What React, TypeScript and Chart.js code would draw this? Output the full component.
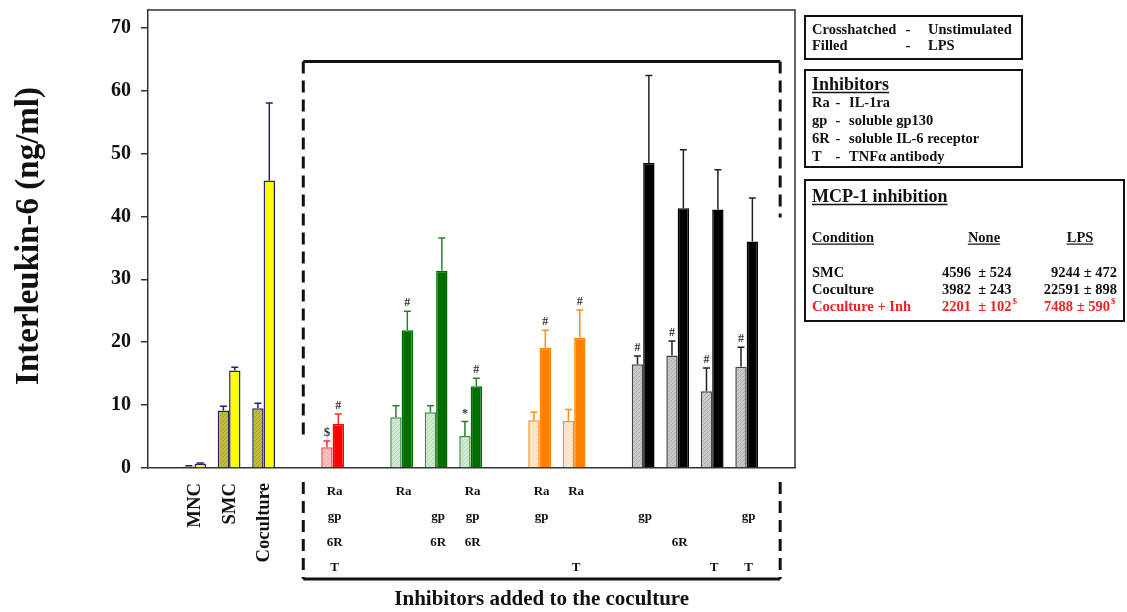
import React, { useEffect, useRef } from 'react';
import { Chart, registerables } from 'chart.js';

Chart.register(...registerables);

// ---------- data ----------
const groupNames = ['MNC', 'SMC', 'Coculture', 'Ra gp 6R T', 'Ra', 'gp 6R', 'Ra gp 6R', 'Ra gp', 'Ra T', 'gp', '6R', 'T', 'gp T'];
const groupSlot = [0, 1, 2, 4, 6, 7, 8, 10, 11, 13, 14, 15, 16];
const cellLabels = ['MNC', 'SMC', 'Coculture'];
const groupInhibitors = [[], [], [], ['Ra', 'gp', '6R', 'T'], ['Ra'], ['gp', '6R'], ['Ra', 'gp', '6R'], ['Ra', 'gp'], ['Ra', 'T'], ['gp'], ['6R'], ['T'], ['gp', 'T']];
const inhibitorCodes = ['Ra', 'gp', '6R', 'T'];

const unstimValues = [0.25, 9.15, 9.5, 3.3, 8.05, 8.85, 5.1, 7.6, 7.5, 16.5, 17.9, 12.2, 16.1];
const unstimErrors = [0.1, 0.65, 0.8, 1.0, 1.85, 1.05, 2.3, 1.25, 1.8, 1.3, 2.3, 3.7, 3.1];
const lpsValues = [0.7, 15.5, 45.7, 7.0, 21.9, 31.35, 13.0, 19.1, 20.7, 48.5, 41.3, 41.1, 36.0];
const lpsErrors = [0.1, 0.5, 12.3, 1.6, 3.0, 5.2, 1.25, 2.8, 4.4, 13.9, 9.3, 6.3, 6.9];
const unstimMarks = ['', '', '', '$', '', '', '*', '', '', '#', '#', '#', '#'];
const lpsMarks = ['', '', '', '#', '#', '', '#', '#', '#', '', '', '', ''];

const yTicks = [0, 10, 20, 30, 40, 50, 60, 70];

const legendTreatment = [['Crosshatched', 'Unstimulated'], ['Filled', 'LPS']];
const legendInhibitors = [['Ra', 'IL-1ra'], ['gp', 'soluble gp130'], ['6R', 'soluble IL-6 receptor'], ['T', 'TNFα antibody']];
const mcpConditions = ['SMC', 'Coculture', 'Coculture + Inh'];
const mcpNone = ['4596  ± 524', '3982  ± 243', '2201  ± 102'];
const mcpLps = ['9244 ± 472', '22591 ± 898', '7488 ± 590'];
const mcpSup = ['', '', '$'];

// ---------- styles ----------
const FONT = "'Liberation Serif', 'Times New Roman', Times, serif";
type Pal = { hb: string; hl: string; hBorder: string; fill: string; fBorder: string; err: string };
const YEL: Pal = { hb: '#c2bc38', hl: '#a39e28', hBorder: '#23236e', fill: '#ffff00', fBorder: '#23236e', err: '#23236e' };
const RED: Pal = { hb: '#f8c2c2', hl: '#efa0a0', hBorder: '#ff4040', fill: '#ff0000', fBorder: '#ff0000', err: '#ff2a2a' };
const GRN: Pal = { hb: '#d3e8d3', hl: '#b6d4b6', hBorder: '#3a8c3a', fill: '#006e00', fBorder: '#006e00', err: '#2e7e2e' };
const ORG: Pal = { hb: '#fde8d0', hl: '#f8d3aa', hBorder: '#ff8c1a', fill: '#ff8000', fBorder: '#ff8000', err: '#ff8c1a' };
const BLK: Pal = { hb: '#c8c8c8', hl: '#aaaaaa', hBorder: '#444444', fill: '#000000', fBorder: '#000000', err: '#222222' };
const groupPalette: Pal[] = [YEL, YEL, YEL, RED, GRN, GRN, GRN, ORG, ORG, BLK, BLK, BLK, BLK];

function hatch(base: string, line: string): CanvasPattern | string {
  const c = document.createElement('canvas');
  c.width = 4; c.height = 4;
  const g = c.getContext('2d');
  if (!g) return base;
  g.fillStyle = base; g.fillRect(0, 0, 4, 4);
  g.strokeStyle = line; g.lineWidth = 0.8;
  g.beginPath();
  g.moveTo(-1, 5); g.lineTo(5, -1);
  g.moveTo(-3, 3); g.lineTo(3, -3);
  g.moveTo(1, 7); g.lineTo(7, 1);
  g.stroke();
  return g.createPattern(c, 'repeat') || base;
}

function txt(ctx: CanvasRenderingContext2D, s: string, x: number, y: number, size: number, o: { align?: CanvasTextAlign; color?: string; underline?: boolean; base?: CanvasTextBaseline; weight?: string } = {}) {
  ctx.save();
  ctx.font = `${o.weight || 'bold'} ${size}px ${FONT}`;
  ctx.fillStyle = o.color || '#111';
  ctx.textAlign = o.align || 'left';
  ctx.textBaseline = o.base || 'middle';
  ctx.fillText(s, x, y);
  if (o.underline) {
    const w = ctx.measureText(s).width;
    let x0 = x;
    if (ctx.textAlign === 'center') x0 = x - w / 2;
    if (ctx.textAlign === 'right') x0 = x - w;
    ctx.strokeStyle = o.color || '#111';
    ctx.lineWidth = Math.max(1.2, size / 13);
    ctx.beginPath();
    const uy = (o.base || 'middle') === 'middle' ? y + size * 0.42 : y + size * 0.12;
    ctx.moveTo(x0, uy); ctx.lineTo(x0 + w, uy);
    ctx.stroke();
  }
  ctx.restore();
}

const overlay = {
  id: 'overlay',
  afterDatasetsDraw(chart: any) {
    const ctx: CanvasRenderingContext2D = chart.ctx;
    const ys = chart.scales.y;
    const sets = [
      { vals: unstimValues, errs: unstimErrors, marks: unstimMarks },
      { vals: lpsValues, errs: lpsErrors, marks: lpsMarks },
    ];
    sets.forEach((s, di) => {
      const meta = chart.getDatasetMeta(di);
      meta.data.forEach((el: any, i: number) => {
        const x = el.x;
        const yTop = ys.getPixelForValue(s.vals[i] + s.errs[i]);
        ctx.save();
        ctx.strokeStyle = groupPalette[i].err;
        ctx.lineWidth = 1.5;
        ctx.beginPath();
        ctx.moveTo(x, el.y); ctx.lineTo(x, yTop);
        ctx.moveTo(x - 3.5, yTop); ctx.lineTo(x + 3.5, yTop);
        ctx.stroke();
        ctx.restore();
        if (s.marks[i]) {
          txt(ctx, s.marks[i], x, yTop - 2, s.marks[i] === '$' ? 13 : 12, { align: 'center', base: 'bottom', color: '#333' });
        }
      });
    });
  },
  afterDraw(chart: any) {
    const ctx: CanvasRenderingContext2D = chart.ctx;
    const xs = chart.scales.x, ys = chart.scales.y;
    const ca = chart.chartArea;
    // frame
    ctx.save();
    ctx.strokeStyle = '#333'; ctx.lineWidth = 1.5;
    ctx.beginPath();
    ctx.moveTo(ca.left, ca.top); ctx.lineTo(ca.right, ca.top); ctx.lineTo(ca.right, ca.bottom);
    ctx.stroke();
    ctx.restore();

    // brackets
    const bx0 = xs.getPixelForValue(3.15), bx1 = xs.getPixelForValue(16.97);
    const bTop = ys.getPixelForValue(64.6);
    ctx.save();
    ctx.strokeStyle = '#111'; ctx.lineWidth = 3;
    ctx.beginPath();
    ctx.moveTo(bx0, bTop); ctx.lineTo(bx1, bTop);
    ctx.moveTo(bx0, ca.bottom + 111); ctx.lineTo(bx1, ca.bottom + 111);
    ctx.stroke();
    ctx.setLineDash([12, 7]);
    ctx.beginPath();
    ctx.moveTo(bx0, bTop); ctx.lineTo(bx0, ys.getPixelForValue(5.2));
    ctx.moveTo(bx1, bTop); ctx.lineTo(bx1, ys.getPixelForValue(39.8));
    ctx.moveTo(bx0, ca.bottom + 14); ctx.lineTo(bx0, ca.bottom + 111);
    ctx.moveTo(bx1, ca.bottom + 14); ctx.lineTo(bx1, ca.bottom + 111);
    ctx.stroke();
    ctx.restore();

    // cell-type labels (rotated)
    cellLabels.forEach((lab, i) => {
      const x = xs.getPixelForValue(groupSlot[i]) + 1;
      ctx.save();
      ctx.translate(x, ca.bottom + 15);
      ctx.rotate(-Math.PI / 2);
      txt(ctx, lab, 0, 0, 18.7, { align: 'right' });
      ctx.restore();
    });

    // inhibitor rows
    const rowBase = [495, 520, 546, 571];
    inhibitorCodes.forEach((code, r) => {
      groupInhibitors.forEach((inh, i) => {
        if (inh.indexOf(code) >= 0) {
          txt(ctx, code, xs.getPixelForValue(groupSlot[i]) + 2, rowBase[r], 13, { align: 'center', base: 'alphabetic' });
        }
      });
    });

    // axis titles
    txt(ctx, 'Inhibitors added to the coculture', (bx0 + bx1) / 2, 600, 21, { align: 'center' });
    ctx.save();
    ctx.translate(29, 236);
    ctx.rotate(-Math.PI / 2);
    txt(ctx, 'Interleukin-6 (ng/ml)', 0, 0, 33, { align: 'center' });
    ctx.restore();

    // legend boxes
    ctx.save();
    ctx.strokeStyle = '#111'; ctx.lineWidth = 2;
    ctx.strokeRect(805, 16, 217, 43);
    ctx.strokeRect(805, 70, 217, 97);
    ctx.strokeRect(805, 180, 319, 141);
    ctx.restore();
    legendTreatment.forEach((row, i) => {
      const y = 30 + i * 16.5;
      txt(ctx, row[0], 812, y, 14.5);
      txt(ctx, '-', 908, y, 14.5, { align: 'center' });
      txt(ctx, row[1], 928, y, 14.5);
    });
    txt(ctx, 'Inhibitors', 812, 85, 18, { underline: true });
    legendInhibitors.forEach((row, i) => {
      const y = 103 + i * 18;
      txt(ctx, row[0], 812, y, 14.5);
      txt(ctx, '-', 838, y, 14.5, { align: 'center' });
      txt(ctx, row[1], 849, y, 14.5);
    });
    txt(ctx, 'MCP-1 inhibition', 812, 197, 18, { underline: true });
    txt(ctx, 'Condition', 812, 238, 14.5, { underline: true });
    txt(ctx, 'None', 984, 238, 14.5, { underline: true, align: 'center' });
    txt(ctx, 'LPS', 1080, 238, 14.5, { underline: true, align: 'center' });
    mcpConditions.forEach((c, i) => {
      const y = 273 + i * 17;
      const col = i === 2 ? '#ee2222' : '#111';
      txt(ctx, c, 812, y, 14.5, { color: col });
      txt(ctx, mcpNone[i], 942, y, 14.5, { color: col });
      if (mcpSup[i]) {
        ctx.save(); ctx.font = `bold 14.5px ${FONT}`;
        const w = ctx.measureText(mcpNone[i]).width; ctx.restore();
        txt(ctx, mcpSup[i], 942 + w + 1, y - 5, 9, { color: col });
      }
      const rightEdge = mcpSup[i] ? 1110 : 1117;
      txt(ctx, mcpLps[i], rightEdge, y, 14.5, { color: col, align: 'right' });
      if (mcpSup[i]) txt(ctx, mcpSup[i], rightEdge + 1, y - 5, 9, { color: col });
    });
  },
};

export default function App() {
  const ref = useRef<HTMLCanvasElement | null>(null);
  useEffect(() => {
    if (!ref.current) return;
    const unstimBg = groupPalette.map((p) => hatch(p.hb, p.hl));
    const chart = new Chart(ref.current, {
      type: 'bar',
      data: {
        datasets: [
          {
            label: 'Unstimulated',
            data: groupNames.map((_, i) => ({ x: groupSlot[i], y: unstimValues[i] })),
            backgroundColor: unstimBg as any,
            borderColor: groupPalette.map((p) => p.hBorder),
            borderWidth: 1.5,
          },
          {
            label: 'LPS',
            data: groupNames.map((_, i) => ({ x: groupSlot[i], y: lpsValues[i] })),
            backgroundColor: groupPalette.map((p) => p.fill),
            borderColor: groupPalette.map((p) => p.fBorder),
            borderWidth: 1.5,
          },
        ],
      } as any,
      options: {
        responsive: false,
        animation: false,
        events: [],
        layout: { padding: { left: 0, right: 332, top: 10, bottom: 0 } },
        datasets: { bar: { categoryPercentage: 0.66, barPercentage: 1 } } as any,
        plugins: { legend: { display: false }, tooltip: { enabled: false } },
        scales: {
          x: {
            type: 'linear',
            min: -1.35,
            max: 17.4,
            offset: false,
            grid: { display: false },
            ticks: { display: false },
            border: { display: true, color: '#333', width: 1.5 },
            afterFit: (s: any) => { s.height = 144; s.paddingLeft = 0; s.paddingRight = 0; },
          },
          y: {
            type: 'linear',
            min: 0,
            max: 72.8,
            afterBuildTicks: (s: any) => { s.ticks = yTicks.map((v) => ({ value: v })); },
            ticks: { font: { family: FONT, size: 20, weight: 'bold' }, color: '#111', padding: 10 },
            grid: { drawOnChartArea: false, drawTicks: true, tickLength: 7, color: '#333', lineWidth: 1.5 },
            border: { display: true, color: '#333', width: 1.5 },
            afterFit: (s: any) => { s.width = 148; s.paddingTop = 0; s.paddingBottom = 0; },
          },
        },
      } as any,
      plugins: [overlay],
    });
    return () => chart.destroy();
  }, []);
  return (
    <div style={{ position: 'fixed', left: 0, top: 0, width: 1127, height: 612, background: '#fff' }}>
      <canvas ref={ref} width={1127} height={612} style={{ display: 'block' }} />
    </div>
  );
}
